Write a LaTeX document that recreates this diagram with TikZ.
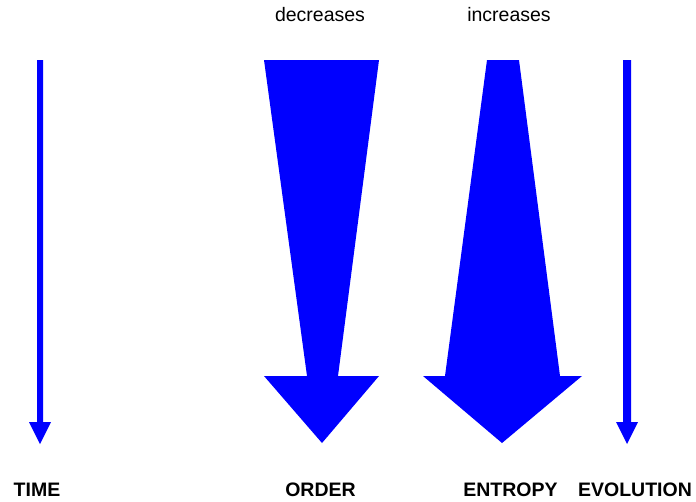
\documentclass[tikz,border=0pt]{standalone}
\usepackage{fontspec}
\setmainfont{Liberation Sans}
\begin{document}
\begin{tikzpicture}[x=1pt,y=-1pt,
  lbl/.style={anchor=base,inner sep=0pt,font=\fontsize{19.5}{22}\selectfont},
  blbl/.style={lbl,font=\fontsize{19.5}{22}\selectfont\bfseries},
  bluefill/.style={fill={rgb,255:red,0;green,0;blue,255},draw=none}]
\useasboundingbox (0,0) rectangle (696,501);
% thin arrows
\fill[bluefill] (37,60) -- (43,60) -- (43,422) -- (51,422) -- (40,444) -- (29,422) -- (37,422) -- cycle;
\fill[bluefill] (623,60) -- (631,60) -- (631,422) -- (638,422) -- (627,444) -- (616,422) -- (623,422) -- cycle;
% ORDER arrow
\fill[bluefill] (264,60) -- (379,60) -- (338,376) -- (379,376) -- (322,443) -- (264,376) -- (307,376) -- cycle;
% ENTROPY arrow
\fill[bluefill] (487,60) -- (519,60) -- (560,376) -- (582,376) -- (502,443) -- (423,376) -- (445,376) -- cycle;
% labels
\node[lbl] (dec) at (320,21.5) {decreases};
\node[lbl] (inc) at (509,21.5) {increases};
\node[blbl] (time) at (37,496.5) {TIME};
\node[blbl] (order) at (320.5,496.5) {ORDER};
\node[blbl] (entropy) at (510.5,496.5) {ENTROPY};
\node[blbl] (evol) at (635,496.5) {EVOLUTION};
\end{tikzpicture}
\end{document}
